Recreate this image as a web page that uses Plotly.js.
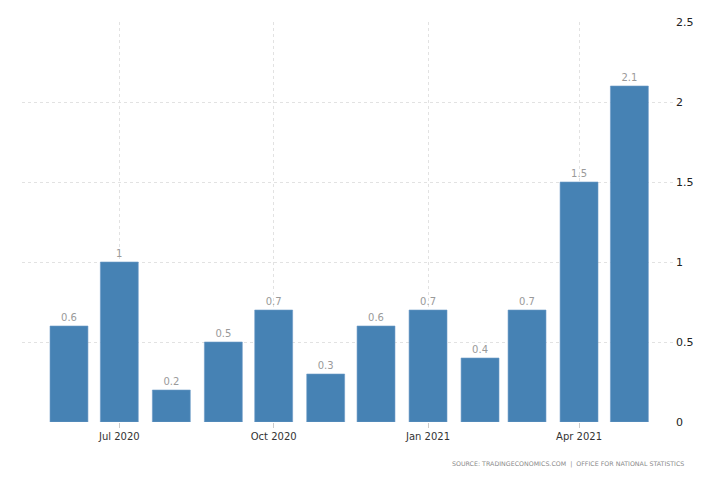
<!DOCTYPE html>
<html>
<head>
<meta charset="utf-8">
<script src="https://cdn.plot.ly/plotly-3.0.1.min.js"></script>
<style>html,body{margin:0;padding:0;background:#fff;}#chart{width:728px;height:485px;}</style>
</head>
<body>
<div id="chart"></div>
<script>
var months = ["2020-06-01","2020-07-01","2020-08-01","2020-09-01","2020-10-01","2020-11-01","2020-12-01","2021-01-01","2021-02-01","2021-03-01","2021-04-01","2021-05-01"];
var values = [0.6, 1, 0.2, 0.5, 0.7, 0.3, 0.6, 0.7, 0.4, 0.7, 1.5, 2.1];
var labels = ["0.6","1","0.2","0.5","0.7","0.3","0.6","0.7","0.4","0.7","1.5","2.1"];
var tickDates = ["2020-07-01","2020-10-01","2021-01-01","2021-04-01"];
var tickLabels = ["Jul 2020","Oct 2020","Jan 2021","Apr 2021"];
var yTicks = [0, 0.5, 1, 1.5, 2, 2.5];
var yTickLabels = ["0","0.5","1","1.5","2","2.5"];

var trace = {
  type: "bar",
  x: months,
  y: values,
  width: 22.6 * 86400000,
  marker: {color: "#4682b4", line: {color: "#6b9bc8", width: 0.6}},
  text: labels,
  textposition: "outside",
  cliponaxis: false,
  textfont: {family: "DejaVu Sans, sans-serif", size: 10, color: "#9a9a9a"},
  hoverinfo: "none"
};

var layout = {
  width: 728, height: 485,
  margin: {l: 22, r: 55, t: 22, b: 63},
  paper_bgcolor: "#fff", plot_bgcolor: "#fff",
  showlegend: false,
  bargap: 0,
  xaxis: {
    type: "date",
    range: ["2020-05-04", "2021-05-27"],
    tickvals: tickDates,
    ticktext: tickLabels,
    showgrid: true,
    gridcolor: "#e2e2e2",
    griddash: "dot",
    gridwidth: 1,
    ticks: "outside",
    ticklen: 5,
    tickcolor: "#cccccc",
    tickfont: {family: "DejaVu Sans, sans-serif", size: 10, color: "#333"},
    showline: false,
    zeroline: false,
    fixedrange: true
  },
  yaxis: {
    side: "right",
    range: [0, 2.5],
    tickvals: yTicks,
    ticktext: yTickLabels,
    showgrid: true,
    gridcolor: "#e2e2e2",
    griddash: "dot",
    gridwidth: 1,
    zeroline: false,
    ticks: "",
    ticklabelstandoff: 2,
    tickfont: {family: "DejaVu Sans, sans-serif", size: 11, color: "#222"},
    fixedrange: true
  },
  annotations: [{
    text: "SOURCE: TRADINGECONOMICS.COM  |  OFFICE FOR NATIONAL STATISTICS",
    xref: "paper", yref: "paper",
    x: 1.02, y: -0.105,
    xanchor: "right", yanchor: "middle",
    showarrow: false,
    font: {family: "DejaVu Sans, sans-serif", size: 6.3, color: "#8a8a8a"}
  }]
};

Plotly.newPlot("chart", [trace], layout, {displayModeBar: false, staticPlot: true});
</script>
</body>
</html>
